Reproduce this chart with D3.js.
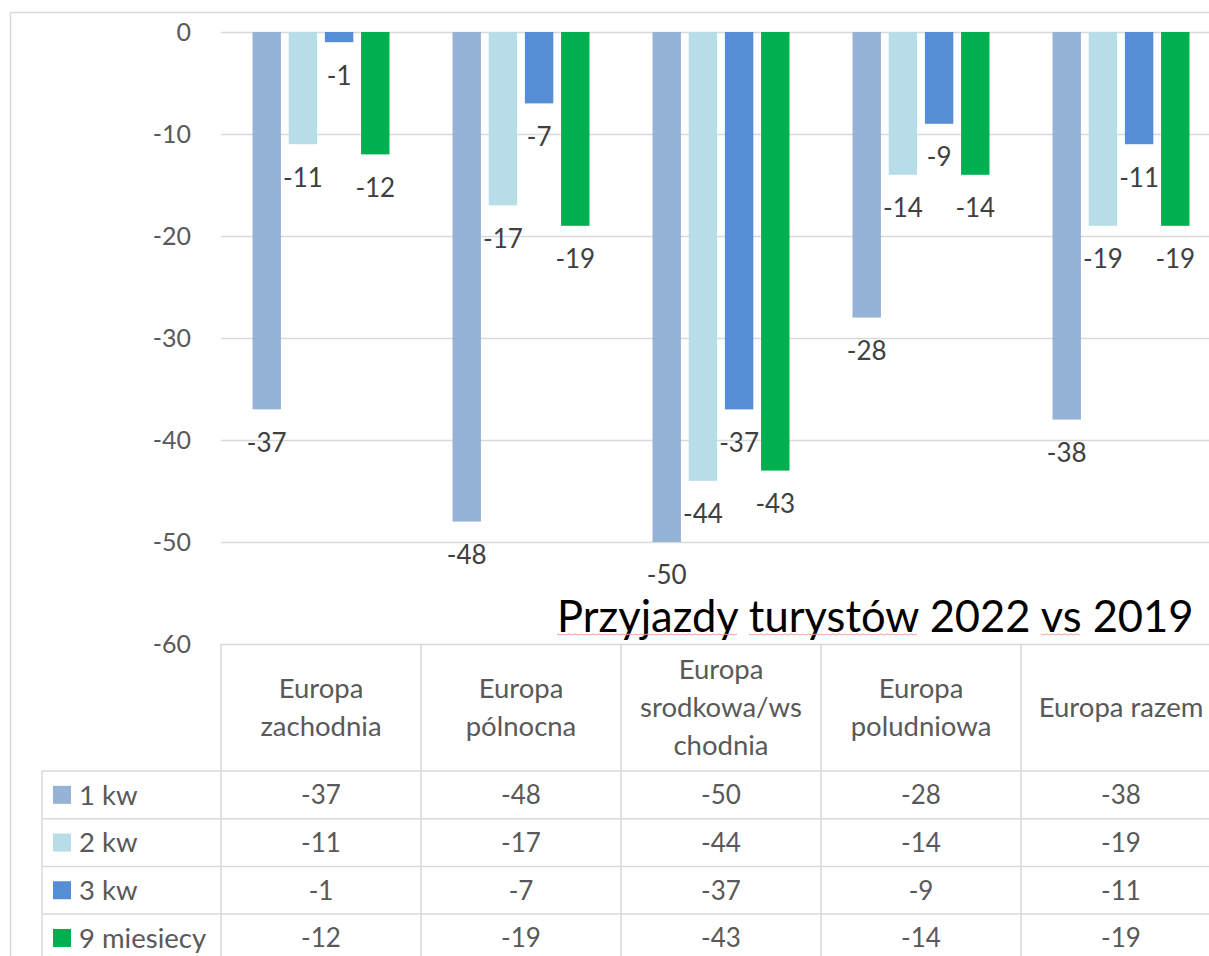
<!DOCTYPE html>
<html>
<head>
<meta charset="utf-8">
<script src="https://cdn.jsdelivr.net/npm/d3@7"></script>
<style>
  html, body { margin: 0; padding: 0; background: #fff; overflow: hidden; }
  text { font-family: Lato, "Open Sans", sans-serif; }
</style>
</head>
<body>
<div id="app"></div>
<script>
// data
var categories = ['Europa zachodnia', 'Europa pólnocna', 'Europa srodkowa/wschodnia', 'Europa poludniowa', 'Europa razem'];
var categoryLines = [['Europa', 'zachodnia'], ['Europa', 'pólnocna'], ['Europa', 'srodkowa/ws', 'chodnia'], ['Europa', 'poludniowa'], ['Europa razem']];
var seriesNames = ['1 kw', '2 kw', '3 kw', '9 miesiecy'];
var seriesColors = ['#95b3d7', '#b7dde8', '#558ed5', '#00b050'];
var q1 = [-37, -48, -50, -28, -38];
var q2 = [-11, -17, -44, -14, -19];
var q3 = [-1, -7, -37, -9, -11];
var months9 = [-12, -19, -43, -14, -19];
var yTicks = [0, -10, -20, -30, -40, -50, -60];
var title = 'Przyjazdy turystów 2022 vs 2019';

var seriesValues = [q1, q2, q3, months9];

var width = 1209, height = 956;
var svg = d3.select('#app').append('svg').attr('width', width).attr('height', height);

var grid = '#d9d9d9';

// outer chart border (only top/left visible in the crop)
svg.append('path').attr('d', 'M10.5,' + height + 'V12.5H' + width)
    .attr('fill', 'none').attr('stroke', grid).attr('stroke-width', 1.5);

var x = d3.scaleBand().domain(categories).range([221, 1221]).padding(0);
var xs = d3.scaleBand().domain(seriesNames).range([31.5, 168.5]).paddingInner(0.215);
var y = d3.scaleLinear().domain([-60, 0]).range([644, 32]);

// gridlines
svg.append('g').attr('transform', 'translate(221,0)')
    .call(d3.axisLeft(y).tickValues(yTicks).tickSize(-1000).tickFormat(''))
    .call(function(g) {
        g.select('.domain').remove();
        g.selectAll('line').attr('stroke', grid).attr('stroke-width', 1.5);
    });

// y tick labels (plain hyphen, like Excel)
svg.append('g').attr('transform', 'translate(221,0)')
    .call(d3.axisLeft(y).tickValues(yTicks).tickSize(0).tickPadding(30).tickFormat(function(d) { return String(d); }))
    .call(function(g) {
        g.select('.domain').remove();
        g.selectAll('text').attr('fill', '#595959').style('font-size', '25px')
            .style('font-family', 'Lato, sans-serif');
    });

// bars
var groups = svg.append('g').selectAll('g').data(seriesNames).enter().append('g')
    .attr('fill', function(d, i) { return seriesColors[i]; });

groups.selectAll('rect').data(function(s, i) {
        return seriesValues[i].map(function(v, j) { return {s: s, c: categories[j], v: v}; });
    }).enter().append('rect')
    .attr('x', function(d) { return x(d.c) + xs(d.s); })
    .attr('width', xs.bandwidth())
    .attr('y', y(0))
    .attr('height', function(d) { return y(d.v) - y(0); });

groups.selectAll('text').data(function(s, i) {
        return seriesValues[i].map(function(v, j) { return {s: s, c: categories[j], v: v}; });
    }).enter().append('text')
    .attr('x', function(d) { return x(d.c) + xs(d.s) + xs.bandwidth() / 2; })
    .attr('y', function(d) { return y(d.v) + 33; })
    .attr('dy', '0.36em')
    .attr('text-anchor', 'middle')
    .attr('fill', '#404040')
    .style('font-size', '26px')
    .text(function(d) { return d.v; });

// data table
var rowTop = 771, rowH = 47.7, tableTop = y(-60);
var table = svg.append('g').attr('stroke', grid).attr('stroke-width', 1.5).attr('fill', 'none');
categories.forEach(function(c) {
    table.append('line').attr('x1', x(c)).attr('x2', x(c)).attr('y1', tableTop).attr('y2', height);
});
seriesNames.forEach(function(s, i) {
    var yy = rowTop + i * rowH;
    table.append('line').attr('x1', 42).attr('x2', width).attr('y1', yy).attr('y2', yy);
});
table.append('line').attr('x1', 42).attr('x2', 42).attr('y1', rowTop).attr('y2', height);

// column headers
var headerMid = (tableTop + rowTop) / 2;
categories.forEach(function(c, j) {
    var lines = categoryLines[j];
    svg.append('text')
        .attr('x', x(c) + x.bandwidth() / 2)
        .attr('text-anchor', 'middle')
        .attr('fill', '#595959')
        .style('font-size', '27.5px')
        .selectAll('tspan').data(lines).enter().append('tspan')
        .attr('x', x(c) + x.bandwidth() / 2)
        .attr('y', function(d, k) { return headerMid + (k - (lines.length - 1) / 2) * 38; })
        .attr('dy', '0.36em')
        .text(function(d) { return d; });
});

// legend rows + values
seriesNames.forEach(function(s, i) {
    var cy = rowTop + i * rowH + rowH / 2;
    svg.append('rect').attr('x', 53).attr('y', cy - 9).attr('width', 18).attr('height', 18)
        .attr('fill', seriesColors[i]);
    svg.append('text').attr('x', 79).attr('y', cy).attr('dy', '0.36em')
        .attr('fill', '#595959').style('font-size', '27.5px').text(s);
    seriesValues[i].forEach(function(v, j) {
        svg.append('text').attr('x', x(categories[j]) + x.bandwidth() / 2).attr('y', cy).attr('dy', '0.36em')
            .attr('text-anchor', 'middle').attr('fill', '#595959').style('font-size', '26px').text(v);
    });
});

// title, with the spell-check squiggles under some words
var t = svg.append('text').attr('x', 557).attr('y', 632)
    .attr('fill', '#000').style('font-size', '43.5px').text(title);

var marked = ['Przyjazdy', 'turystów', 'vs'];
var node = t.node();
marked.forEach(function(w) {
    var idx = title.indexOf(w);
    var x0 = 557 + node.getSubStringLength(0, idx);
    var wl = node.getSubStringLength(idx, w.length);
    var pts = d3.range(0, Math.floor(wl / 3) + 1).map(function(k) {
        return [x0 + k * 3, 634 + (k % 2 ? 1 : 0)];
    });
    svg.append('path').attr('d', d3.line()(pts)).attr('fill', 'none')
        .attr('stroke', '#f4a0a0').attr('stroke-width', 1);
});
</script>
</body>
</html>
